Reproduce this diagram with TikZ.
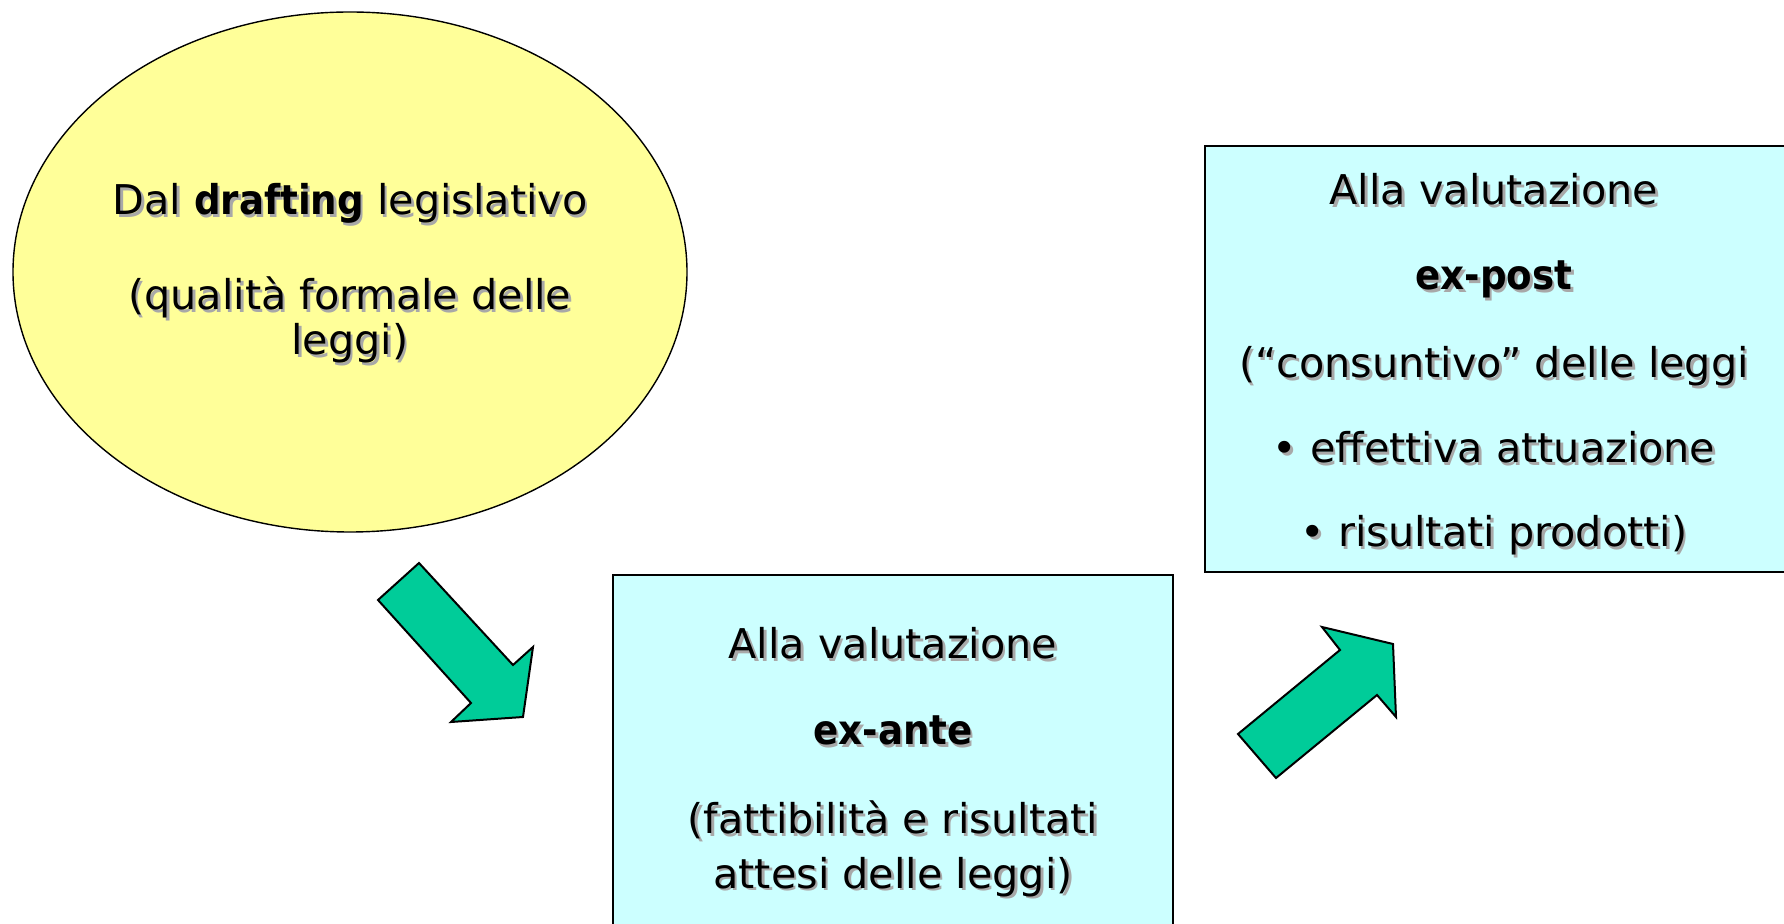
\documentclass[tikz,border=0pt]{standalone}
\usepackage{fontspec}
\usepackage{graphicx}
\setmainfont{DejaVu Sans Condensed}[FakeStretch=1.12]
\usetikzlibrary{calc,shapes.geometric}
\definecolor{ellfill}{HTML}{FFFF99}
\definecolor{boxfill}{HTML}{CCFFFF}
\definecolor{arrfill}{HTML}{00CC99}
\definecolor{shad}{HTML}{A8A8A8}
\newcommand\narrowbold[1]{{\bfseries\scalebox{0.9}[1]{#1}}}
\newcommand\shadowline[4]{%
  \node[txt,text=shad,anchor=base] (#1s) at ($(#2,#3)+(2.5,2.5)$) {#4};
  \node[txt,anchor=base] (#1) at (#2,#3) {#4};}
\begin{document}
\begin{tikzpicture}[x=0.5pt,y=-0.5pt,
  txt/.style={inner sep=0pt,font=\fontsize{20.5}{24}\selectfont},
  shapeline/.style={draw=black,line width=0.7pt},
  arrowshape/.style={draw=black,line width=1pt,fill=arrfill,line join=miter}]
\useasboundingbox (0,0) rectangle (1784,924);
\clip (0,0) rectangle (1784,924);
\fill[white] (0,0) rectangle (1784,924);
% ellipse
\node[shapeline,fill=ellfill,ellipse,minimum width=337pt,minimum height=260pt,inner sep=0pt] (ell) at (350,272) {};
% boxes
\path[shapeline,fill=boxfill] (613,575) rectangle (1173,940);
\coordinate (exante) at (893,575);
\path[shapeline,fill=boxfill] (1205,146) rectangle (1800,572);
\coordinate (expost) at (1494,146);
% arrows
\draw[arrowshape] (378,600) -- (419,563) -- (513,665) -- (533,647) -- (523,717) -- (451,722) -- (471,703) -- cycle;
\draw[arrowshape] (1238,734) -- (1340,650) -- (1322,627) -- (1393,644) -- (1396,717) -- (1377,695) -- (1276,778) -- cycle;
% ellipse text
\shadowline{e1}{350}{215}{Dal \narrowbold{drafting} legislativo}
\shadowline{e2}{350}{310}{(qualità formale delle}
\shadowline{e3}{350}{355}{leggi)}
% ex-ante text
\shadowline{a1}{893}{659}{Alla valutazione}
\shadowline{a2}{893}{745}{\narrowbold{ex-ante}}
\shadowline{a3}{893}{834}{(fattibilità e risultati}
\shadowline{a4}{893}{888}{attesi delle leggi)}
% ex-post text
\shadowline{p1}{1494}{205}{Alla valutazione}
\shadowline{p2}{1494}{290}{\narrowbold{ex-post}}
\shadowline{p3}{1494}{378}{(“consuntivo” delle leggi}
\shadowline{p4}{1494}{463}{• effettiva attuazione}
\shadowline{p5}{1494}{547}{• risultati prodotti)}
\end{tikzpicture}
\end{document}
